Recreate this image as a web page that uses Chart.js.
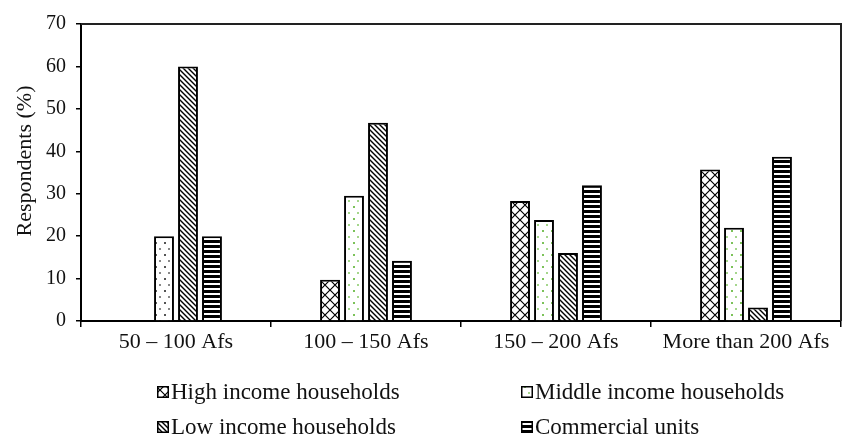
<!DOCTYPE html>
<html>
<head>
<meta charset="utf-8">
<script src="https://cdn.jsdelivr.net/npm/chart.js@4/dist/chart.umd.min.js"></script>
<style>
  html, body { margin: 0; padding: 0; background: #fff; }
  canvas { display: block; }
</style>
</head>
<body>
<canvas id="chart" width="843" height="440"></canvas>
<script>
// Water tariff willingness: share of respondents per price band
const categories = ['50 – 100 Afs', '100 – 150 Afs', '150 – 200 Afs', 'More than 200 Afs'];
const seriesNames = ['High income households', 'Middle income households', 'Low income households', 'Commercial units'];
const highIncome = [0, 9.7, 28.3, 35.7];
const middleIncome = [20, 29.5, 23.8, 22];
const lowIncome = [60, 46.7, 16, 3.2];
const commercialUnits = [20, 14.2, 32, 38.7];
const yAxisTitle = 'Respondents (%)';
const yMin = 0, yMax = 70, yStep = 10;

const SERIF = '"Liberation Serif", "Times New Roman", serif';
const INK = '#111';

// ---- fill patterns -------------------------------------------------------
function tile(w, h, paint) {
  const c = document.createElement('canvas');
  c.width = w; c.height = h;
  const g = c.getContext('2d');
  g.fillStyle = '#fff';
  g.fillRect(0, 0, w, h);
  paint(g, w, h);
  return g.createPattern(c, 'repeat');
}

// diamond lattice
const crossPattern = tile(10, 10, (g, w, h) => {
  g.strokeStyle = '#000';
  g.lineWidth = 1.2;
  g.beginPath();
  g.moveTo(0, 0); g.lineTo(w, h);
  g.moveTo(w, 0); g.lineTo(0, h);
  g.stroke();
});

// sparse dots
function dotPattern(c1, c2) {
  return tile(9, 12, (g) => {
    g.fillStyle = c1; g.fillRect(2, 2, 2, 2);
    g.fillStyle = c2; g.fillRect(6, 8, 2, 2);
  });
}
const greyDots = dotPattern('#555', '#888');
const greenDots = dotPattern('#7cc25a', '#a5d68c');

// dense back-slash hatching
const hatchPattern = tile(5, 5, (g, w, h) => {
  g.strokeStyle = '#000';
  g.lineWidth = 1.4;
  g.beginPath();
  g.moveTo(-1, -1); g.lineTo(w + 1, h + 1);
  g.moveTo(-1, h - 1); g.lineTo(1, h + 1);
  g.moveTo(w - 1, -1); g.lineTo(w + 1, 1);
  g.stroke();
});

// horizontal stripes
const stripePattern = tile(5, 5, (g, w) => {
  g.fillStyle = '#000';
  g.fillRect(0, 0, w, 3);
});

const legendFills = [crossPattern, greenDots, hatchPattern, stripePattern];

// ---- plugins -------------------------------------------------------------
const framePlugin = {
  id: 'frame',
  afterDatasetsDraw(chart) {
    const { ctx, chartArea: a } = chart;
    ctx.save();
    ctx.strokeStyle = '#222';
    ctx.lineWidth = 2;
    ctx.beginPath();
    ctx.moveTo(a.left, a.top);
    ctx.lineTo(a.right, a.top);
    ctx.lineTo(a.right, a.bottom);
    ctx.stroke();
    ctx.restore();
  }
};

const yTitlePlugin = {
  id: 'yTitle',
  afterDraw(chart) {
    const ctx = chart.ctx;
    ctx.save();
    ctx.translate(25, 161);
    ctx.rotate(-Math.PI / 2);
    ctx.font = '22px ' + SERIF;
    ctx.fillStyle = INK;
    ctx.textAlign = 'center';
    ctx.textBaseline = 'middle';
    ctx.fillText(yAxisTitle, 0, 0);
    ctx.restore();
  }
};

const gridLegendPlugin = {
  id: 'gridLegend',
  afterDraw(chart) {
    const ctx = chart.ctx;
    const colX = [157, 521];
    const rowTop = [386, 421];
    const box = 12;
    ctx.save();
    ctx.font = '23px ' + SERIF;
    ctx.textBaseline = 'alphabetic';
    ctx.textAlign = 'left';
    chart.data.datasets.forEach((ds, i) => {
      const x = colX[i % 2];
      const y = rowTop[Math.floor(i / 2)];
      ctx.fillStyle = legendFills[i];
      ctx.fillRect(x, y, box, box);
      ctx.strokeStyle = '#000';
      ctx.lineWidth = 1.5;
      ctx.strokeRect(x + 0.75, y + 0.75, box - 1.5, box - 1.5);
      ctx.fillStyle = INK;
      ctx.fillText(ds.label, x + box + 2, y + box + 1);
    });
    ctx.restore();
  }
};

// ---- chart ---------------------------------------------------------------
const barStyle = {
  borderColor: '#000',
  borderWidth: 2,
  borderSkipped: 'start',
  barPercentage: 0.83,
  categoryPercentage: 0.505
};

new Chart(document.getElementById('chart'), {
  type: 'bar',
  data: {
    labels: categories,
    datasets: [
      Object.assign({ label: seriesNames[0], data: highIncome, backgroundColor: crossPattern }, barStyle),
      Object.assign({ label: seriesNames[1], data: middleIncome, backgroundColor: [greyDots, greenDots, greenDots, greenDots] }, barStyle),
      Object.assign({ label: seriesNames[2], data: lowIncome, backgroundColor: hatchPattern }, barStyle),
      Object.assign({ label: seriesNames[3], data: commercialUnits, backgroundColor: stripePattern }, barStyle)
    ]
  },
  options: {
    responsive: false,
    animation: false,
    devicePixelRatio: 1,
    layout: { padding: { top: 24, right: 2, bottom: 79, left: 0 } },
    plugins: {
      legend: { display: false },
      tooltip: { enabled: false }
    },
    scales: {
      x: {
        afterFit(scale) { scale.height = 40; },
        grid: { display: true, drawOnChartArea: false, drawTicks: true, tickLength: 6, color: '#000', lineWidth: 1.5 },
        border: { display: true, color: '#000', width: 2 },
        ticks: { color: INK, font: { family: SERIF, size: 22 }, padding: 2, maxRotation: 0 }
      },
      y: {
        min: yMin,
        max: yMax,
        afterFit(scale) { scale.width = 81; },
        grid: { display: true, drawOnChartArea: false, drawTicks: true, tickLength: 5, color: '#000', lineWidth: 1.5 },
        border: { display: true, color: '#000', width: 2 },
        ticks: { stepSize: yStep, color: INK, font: { family: SERIF, size: 20 }, padding: 10 }
      }
    }
  },
  plugins: [framePlugin, yTitlePlugin, gridLegendPlugin]
});
</script>
</body>
</html>
